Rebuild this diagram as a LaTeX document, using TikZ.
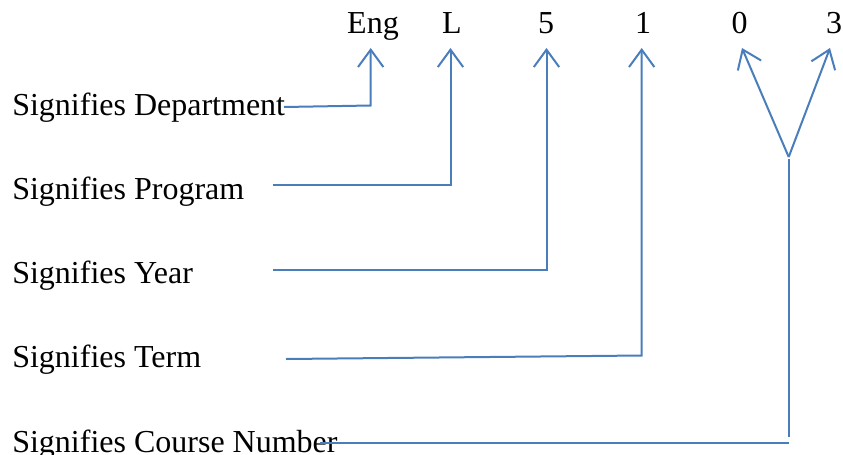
\documentclass[tikz,border=0pt]{standalone}
\usepackage{fontspec}
\setmainfont{Liberation Serif}
\usetikzlibrary{arrows.meta}
\definecolor{wordblue}{RGB}{74,126,187}
\begin{document}
\begin{tikzpicture}[x=0.75pt,y=-0.75pt,
  codepart/.style={anchor=base,inner sep=0pt,font=\fontsize{24pt}{28pt}\selectfont},
  meaning/.style={anchor=base west,inner sep=0pt,font=\fontsize{24pt}{28pt}\selectfont},
  pointer/.style={draw=wordblue,line width=1.5pt,
    -{Straight Barb[length=13pt,width=19pt,line width=1.5pt]}},
  leader/.style={draw=wordblue,line width=1.5pt}]
\useasboundingbox (0,0) rectangle (843,454);

% course code parts
\node[codepart] (eng) at (373,33) {Eng};
\node[codepart] (prog) at (452,33) {L};
\node[codepart] (year) at (546,33) {5};
\node[codepart] (term) at (643,33) {1};
\node[codepart] (numa) at (739.5,33) {0};
\node[codepart] (numb) at (834,33) {3};

% meanings
\node[meaning] (sdept) at (12,115) {Signifies Department};
\node[meaning] (sprog) at (12,199) {Signifies Program};
\node[meaning] (syear) at (12,283) {Signifies Year};
\node[meaning] (sterm) at (12,367) {Signifies Term};
\node[meaning] (snum) at (12,452) {Signifies Course Number};

% arrow tips and bends
\coordinate (tEng) at (370.7,48);
\coordinate (tProg) at (450.5,48);
\coordinate (tYear) at (546.5,48);
\coordinate (tTerm) at (641.7,48);
\coordinate (tNumA) at (742,48);
\coordinate (tNumB) at (830,48);

\coordinate (cDept) at (370.7,105.5);
\coordinate (eDept) at (284,107);
\coordinate (cProg) at (450.5,184.5);
\coordinate (eProg) at (273,184.5);
\coordinate (cYear) at (546.5,269.5);
\coordinate (eYear) at (273,269.5);
\coordinate (cTerm) at (641.7,355.5);
\coordinate (eTerm) at (286,359);
\coordinate (fork) at (788.7,157);
\coordinate (cNumTop) at (788.7,159);
\coordinate (cNumBot) at (788.7,437);
\coordinate (hNumR) at (789,442.5);
\coordinate (eNum) at (320,442.5);

% connectors
\draw[pointer] (eDept) -- (cDept) -- (tEng);
\draw[pointer] (eProg) -- (cProg) -- (tProg);
\draw[pointer] (eYear) -- (cYear) -- (tYear);
\draw[pointer] (eTerm) -- (cTerm) -- (tTerm);
\draw[pointer] (fork) -- (tNumA);
\draw[pointer] (fork) -- (tNumB);
\draw[leader] (cNumTop) -- (cNumBot);
\draw[leader] (eNum) -- (hNumR);
\end{tikzpicture}
\end{document}
